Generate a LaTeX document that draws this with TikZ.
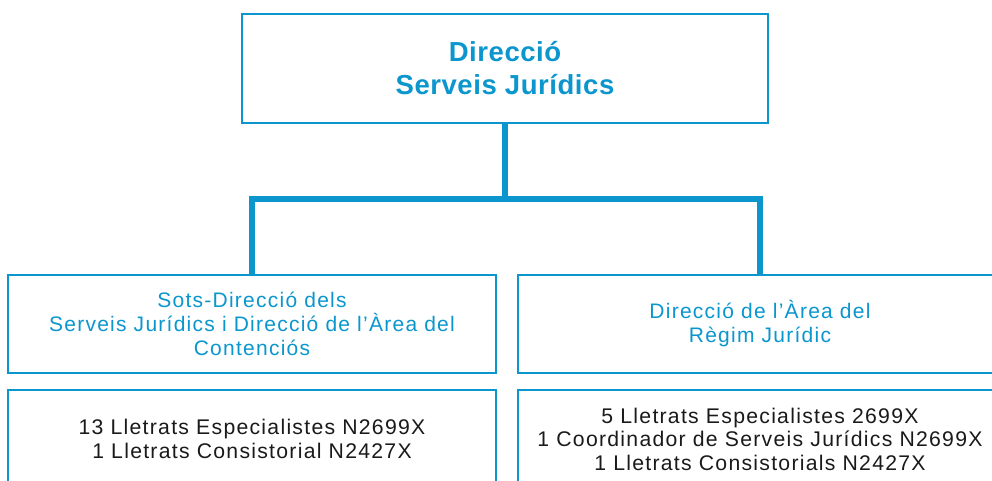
\documentclass[tikz,border=0pt]{standalone}
\usepackage{fontspec}
\setmainfont{Liberation Sans}
\newfontfamily\titlefont[LetterSpace=2]{Liberation Sans}
\newfontfamily\boxfont[LetterSpace=6]{Liberation Sans}
\definecolor{sjblue}{HTML}{0B96CE}
\definecolor{sjtext}{HTML}{1A1A1A}
\tikzset{
  orgbox/.style={draw=sjblue, line width=2pt, rectangle, inner sep=0pt, align=center, minimum height=98pt},
  unitbox/.style={orgbox, text=sjblue, font=\boxfont\fontsize{21}{24}\selectfont},
  staffbox/.style={orgbox, text=sjtext, font=\boxfont\fontsize{21.2}{23.5}\selectfont},
  link/.style={draw=sjblue, line width=6pt, line join=miter}
}
\begin{document}
\begin{tikzpicture}[x=1pt,y=-1pt]
\clip (0,0) rectangle (992,480);
\fill[white] (0,0) rectangle (992,480);
\node[orgbox, minimum width=526pt, minimum height=109pt, text=sjblue, font=\titlefont\bfseries\fontsize{27.5}{33}\selectfont] (top) at (505,68.5) {Direcció\\Serveis Jurídics};
\node[unitbox, minimum width=488pt] (l) at (252,323.5) {Sots-Direcció dels\\Serveis Jurídics i Direcció de l’Àrea del\\Contenciós};
\node[unitbox, minimum width=484pt] (r) at (760,323.5) {Direcció de l’Àrea del\\Règim Jurídic};
\node[staffbox, minimum width=488pt] (ls) at (252,439) {13 Lletrats Especialistes N2699X\\1 Lletrats Consistorial N2427X};
\node[staffbox, minimum width=484pt] (rs) at (760,439) {5 Lletrats Especialistes 2699X\\1 Coordinador de Serveis Jurídics N2699X\\1 Lletrats Consistorials N2427X};
\coordinate (j) at (505,199);
\draw[link] (top.south) -- (j);
\draw[link] (l.north) |- (j) -| (r.north);
\end{tikzpicture}
\end{document}
